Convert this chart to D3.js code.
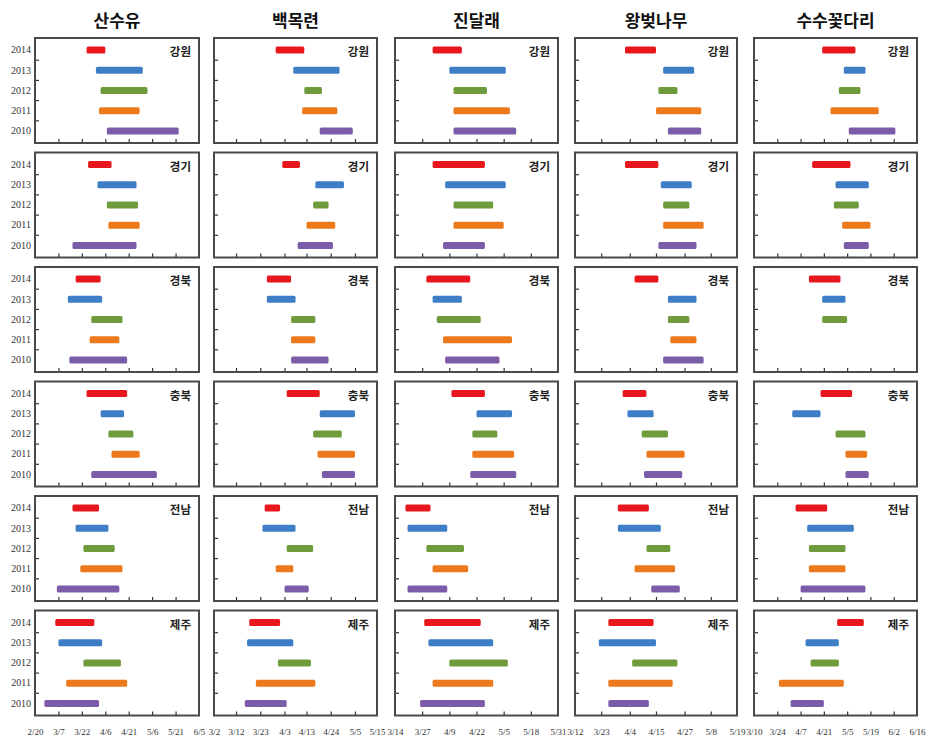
<!DOCTYPE html>
<html><head><meta charset="utf-8">
<script src="https://cdn.jsdelivr.net/npm/d3@7"></script>
<style>body{margin:0;background:#fff}</style>
</head><body><svg id="c" width="928" height="740"></svg>
<script>
// ---------- data ----------
const species = ["산수유", "백목련", "진달래", "왕벚나무", "수수꽃다리"];
const regions = ["강원", "경기", "경북", "충북", "전남", "제주"];
const years = ["2014", "2013", "2012", "2011", "2010"];
const yearColors = ["#e8171e", "#3e7ec6", "#6f9b3c", "#ec7a1c", "#7a5ca8"];

const tickLabels = [
  ["2/20", "3/7", "3/22", "4/6", "4/21", "5/6", "5/21", "6/5"],
  ["3/2", "3/12", "3/23", "4/3", "4/13", "4/24", "5/5", "5/15"],
  ["3/14", "3/27", "4/9", "4/22", "5/5", "5/18", "5/31"],
  ["3/12", "3/23", "4/4", "4/15", "4/27", "5/8", "5/19"],
  ["3/10", "3/24", "4/7", "4/21", "5/5", "5/19", "6/2", "6/16"]
];

// each region: [start, end] for 2014, 2013, 2012, 2011, 2010
const sansuyu = [
  [["3/25","4/6"], ["3/31","4/30"], ["4/3","5/3"], ["4/2","4/28"], ["4/7","5/23"]],
  [["3/26","4/10"], ["4/1","4/26"], ["4/7","4/27"], ["4/8","4/28"], ["3/16","4/26"]],
  [["3/18","4/3"], ["3/13","4/4"], ["3/28","4/17"], ["3/27","4/15"], ["3/14","4/20"]],
  [["3/25","4/20"], ["4/3","4/18"], ["4/8","4/24"], ["4/10","4/28"], ["3/28","5/9"]],
  [["3/16","4/2"], ["3/18","4/8"], ["3/23","4/12"], ["3/21","4/17"], ["3/6","4/15"]],
  [["3/5","3/30"], ["3/7","4/4"], ["3/23","4/16"], ["3/12","4/20"], ["2/26","4/2"]]
];
const baekmokryeon = [
  [["3/30","4/12"], ["4/7","4/28"], ["4/12","4/20"], ["4/11","4/27"], ["4/19","5/4"]],
  [["4/2","4/10"], ["4/17","4/30"], ["4/16","4/23"], ["4/13","4/26"], ["4/9","4/25"]],
  [["3/26","4/6"], ["3/26","4/8"], ["4/6","4/17"], ["4/6","4/17"], ["4/6","4/23"]],
  [["4/4","4/19"], ["4/19","5/5"], ["4/16","4/29"], ["4/18","5/5"], ["4/20","5/5"]],
  [["3/25","4/1"], ["3/24","4/8"], ["4/4","4/16"], ["3/30","4/7"], ["4/3","4/14"]],
  [["3/18","4/1"], ["3/17","4/7"], ["3/31","4/15"], ["3/21","4/17"], ["3/16","4/4"]]
];
const jindallae = [
  [["4/1","4/15"], ["4/9","5/6"], ["4/11","4/27"], ["4/11","5/8"], ["4/11","5/11"]],
  [["4/1","4/26"], ["4/7","5/6"], ["4/11","4/30"], ["4/11","5/5"], ["4/6","4/26"]],
  [["3/29","4/19"], ["4/1","4/15"], ["4/3","4/24"], ["4/6","5/9"], ["4/7","5/3"]],
  [["4/10","4/26"], ["4/22","5/9"], ["4/20","5/2"], ["4/20","5/10"], ["4/19","5/11"]],
  [["3/19","3/31"], ["3/20","4/8"], ["3/29","4/16"], ["4/1","4/18"], ["3/20","4/8"]],
  [["3/28","4/24"], ["3/30","4/30"], ["4/9","5/7"], ["4/1","4/30"], ["3/26","4/26"]]
];
const wangbeot = [
  [["4/2","4/15"], ["4/18","5/1"], ["4/16","4/24"], ["4/15","5/4"], ["4/20","5/4"]],
  [["4/2","4/16"], ["4/17","4/30"], ["4/18","4/29"], ["4/18","5/5"], ["4/16","5/2"]],
  [["4/6","4/16"], ["4/20","5/2"], ["4/20","4/29"], ["4/21","5/2"], ["4/18","5/5"]],
  [["4/1","4/11"], ["4/3","4/14"], ["4/9","4/20"], ["4/11","4/27"], ["4/10","4/26"]],
  [["3/30","4/12"], ["3/30","4/17"], ["4/11","4/21"], ["4/6","4/23"], ["4/13","4/25"]],
  [["3/26","4/14"], ["3/22","4/15"], ["4/5","4/24"], ["3/26","4/22"], ["3/26","4/12"]]
];
const susukkotdari = [
  [["4/20","5/10"], ["5/3","5/16"], ["4/30","5/13"], ["4/25","5/24"], ["5/6","6/3"]],
  [["4/14","5/7"], ["4/28","5/18"], ["4/27","5/12"], ["5/2","5/19"], ["5/3","5/18"]],
  [["4/12","5/1"], ["4/20","5/4"], ["4/20","5/5"], null, null],
  [["4/19","5/8"], ["4/2","4/19"], ["4/28","5/16"], ["5/4","5/17"], ["5/4","5/18"]],
  [["4/4","4/23"], ["4/11","5/9"], ["4/12","5/4"], ["4/12","5/4"], ["4/7","5/16"]],
  [["4/29","5/15"], ["4/10","4/30"], ["4/13","4/30"], ["3/25","5/3"], ["4/1","4/21"]]
];
const speciesData = [sansuyu, baekmokryeon, jindallae, wangbeot, susukkotdari];

// ---------- layout ----------
const colLeft = [35, 214, 395, 575, 754];
const colRight = [199, 377, 558, 737, 917];
const rowTop0 = 38, rowStep = 114.5, panelH = 105;
const KR = "'Noto Sans CJK KR', 'Noto Sans', sans-serif";
const SERIF = "'Liberation Serif', 'DejaVu Serif', serif";

const parse = s => { const [m, d] = s.split("/").map(Number); return new Date(2014, m - 1, d); };
const svg = d3.select("#c");

species.forEach((sp, ci) => {
  const ticks = tickLabels[ci].map(parse);
  const x = d3.scaleTime()
    .domain([ticks[0], ticks[ticks.length - 1]])
    .range([colLeft[ci], colRight[ci]]);

  svg.append("text")
    .attr("x", (colLeft[ci] + colRight[ci]) / 2)
    .attr("y", 27)
    .attr("text-anchor", "middle")
    .attr("font-family", KR)
    .attr("font-weight", 700)
    .attr("font-size", 17)
    .attr("fill", "#111")
    .text(sp);

  regions.forEach((rg, ri) => {
    const top = rowTop0 + ri * rowStep;
    const y = d3.scaleBand().domain(years).range([top + 2, top + panelH - 2]);
    const g = svg.append("g");

    g.append("rect")
      .attr("x", colLeft[ci]).attr("y", top)
      .attr("width", colRight[ci] - colLeft[ci]).attr("height", panelH)
      .attr("fill", "#fff");

    // bars
    const rows = speciesData[ci][ri];
    years.forEach((yr, yi) => {
      const p = rows[yi];
      if (!p) return;
      const x0 = x(parse(p[0])), x1 = x(parse(p[1]));
      g.append("rect")
        .attr("x", x0)
        .attr("y", y(yr) + y.bandwidth() / 2 - 3.5)
        .attr("width", x1 - x0)
        .attr("height", 7)
        .attr("rx", 1.5)
        .attr("fill", yearColors[yi]);
    });

    // x ticks (inward)
    const xa = d3.axisBottom(x).tickValues(ticks.slice(1, -1)).tickSize(-4).tickFormat("");
    const gx = g.append("g").attr("transform", `translate(0,${top + panelH})`).call(xa);
    gx.select(".domain").remove();
    gx.selectAll("line").attr("stroke", "#333").attr("stroke-width", 1.2);

    // y ticks at band boundaries (inward)
    g.selectAll(null).data(years.slice(0, -1)).enter().append("line")
      .attr("x1", colLeft[ci]).attr("x2", colLeft[ci] + 4)
      .attr("y1", d => y(d) + y.bandwidth()).attr("y2", d => y(d) + y.bandwidth())
      .attr("stroke", "#333").attr("stroke-width", 1.2);

    // border
    g.append("rect")
      .attr("x", colLeft[ci]).attr("y", top)
      .attr("width", colRight[ci] - colLeft[ci]).attr("height", panelH)
      .attr("fill", "none").attr("stroke", "#4a4a4a").attr("stroke-width", 2);

    // region label
    g.append("text")
      .attr("x", colRight[ci] - 8).attr("y", top + 18)
      .attr("text-anchor", "end")
      .attr("font-family", KR).attr("font-weight", 700).attr("font-size", 11.5)
      .attr("fill", "#222")
      .text(rg);

    // y labels only on first column
    if (ci === 0) {
      const ya = d3.axisLeft(y).tickSize(0).tickPadding(4);
      const gy = g.append("g").attr("transform", `translate(${colLeft[ci]},0)`).call(ya);
      gy.select(".domain").remove();
      gy.selectAll("text").attr("font-family", SERIF).attr("font-size", 10).attr("fill", "#333");
    }

    // x labels only on bottom row
    if (ri === regions.length - 1) {
      const xl = d3.axisBottom(x).tickValues(ticks).tickSize(0).tickPadding(13)
        .tickFormat((d, i) => tickLabels[ci][i]);
      const gl = g.append("g").attr("transform", `translate(0,${top + panelH})`).call(xl);
      gl.select(".domain").remove();
      gl.selectAll("text").attr("font-family", SERIF).attr("font-size", 9).attr("fill", "#333");
    }
  });
});
</script>
</body></html>
